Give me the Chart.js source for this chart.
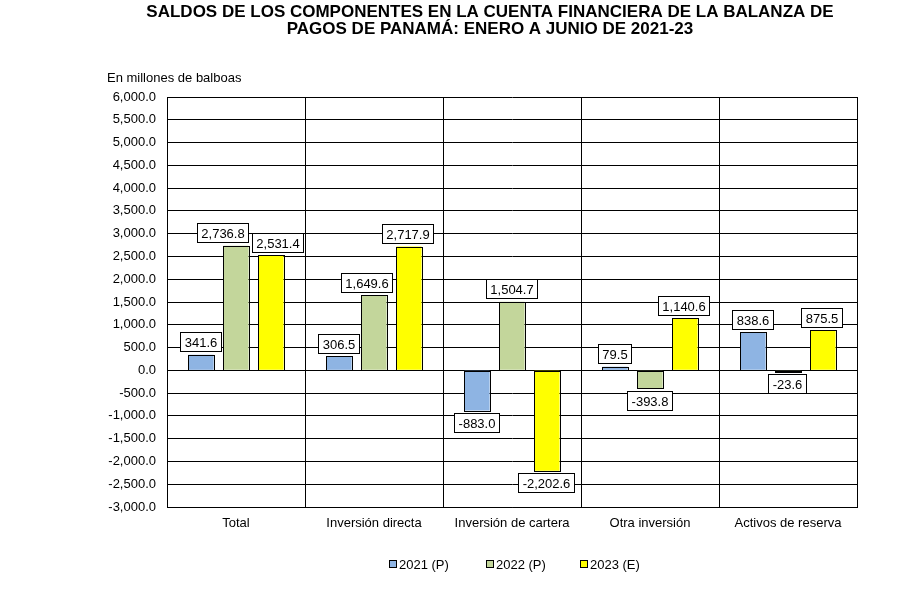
<!DOCTYPE html>
<html>
<head>
<meta charset="utf-8">
<script src="https://cdn.jsdelivr.net/npm/chart.js@4"></script>
<style>
  html, body { margin: 0; padding: 0; background: #fff; }
  #wrap { width: 902px; height: 615px; }
</style>
</head>
<body>
<div id="wrap"><canvas id="chart"></canvas></div>
<script>
// Data
const categories = ['Total', 'Inversión directa', 'Inversión de cartera', 'Otra inversión', 'Activos de reserva'];
const seriesNames = ['2021 (P)', '2022 (P)', '2023 (E)'];
const values2021 = [341.6, 306.5, -883.0, 79.5, 838.6];
const values2022 = [2736.8, 1649.6, 1504.7, -393.8, -23.6];
const values2023 = [2531.4, 2717.9, -2202.6, 1140.6, 875.5];
const seriesColors = ['#8EB4E3', '#C3D69B', '#FFFF00'];

const titleLines = [
    'SALDOS DE LOS COMPONENTES EN LA CUENTA FINANCIERA DE LA BALANZA DE',
    'PAGOS DE PANAMÁ: ENERO A JUNIO DE 2021-23'
];
const unitLabel = 'En millones de balboas';

const FONT = 'Arial, "Liberation Sans", sans-serif';

// Excel nudged a few labels sideways to keep them apart
const labelShift = { '1-0': -13, '2-0': 8, '1-1': -7 };

function fmt(v) {
    return v.toLocaleString('en-US', { minimumFractionDigits: 1, maximumFractionDigits: 1 });
}

// Crisp bar outlines, boxed value labels, title, unit label and legend
const decorations = {
    id: 'decorations',
    afterDatasetsDraw(chart) {
        const ctx = chart.ctx;
        ctx.save();
        ctx.strokeStyle = '#000';
        ctx.lineWidth = 1;
        chart.data.datasets.forEach((ds, i) => {
            chart.getDatasetMeta(i).data.forEach(bar => {
                const l = Math.round(bar.x - bar.width / 2);
                const r = Math.round(bar.x + bar.width / 2);
                const t = Math.round(Math.min(bar.y, bar.base));
                const b = Math.round(Math.max(bar.y, bar.base));
                ctx.strokeRect(l + 0.5, t + 0.5, r - l, Math.max(b - t, 1));
            });
        });
        ctx.font = '13px ' + FONT;
        ctx.textAlign = 'center';
        ctx.textBaseline = 'middle';
        chart.data.datasets.forEach((ds, i) => {
            chart.getDatasetMeta(i).data.forEach((bar, j) => {
                const v = ds.data[j];
                const txt = fmt(v);
                const w = Math.round(ctx.measureText(txt).width + 8);
                const h = 19;
                const cx = bar.x - 1 + (labelShift[i + '-' + j] || 0);
                const cy = v >= 0 ? bar.y - 13 : bar.y + 12;
                const l = Math.round(cx - w / 2), t = Math.round(cy - h / 2);
                ctx.fillStyle = '#fff';
                ctx.fillRect(l, t, w, h);
                ctx.strokeRect(l + 0.5, t + 0.5, w, h);
                ctx.fillStyle = '#000';
                ctx.fillText(txt, l + w / 2 + 0.5, t + h / 2 + 1.5);
            });
        });
        ctx.restore();
    },
    afterDraw(chart) {
        const ctx = chart.ctx;
        ctx.save();
        ctx.fillStyle = '#000';
        ctx.textBaseline = 'middle';
        ctx.textAlign = 'center';
        ctx.font = 'bold 17px ' + FONT;
        titleLines.forEach((line, k) => ctx.fillText(line, 490, 12 + k * 17));
        ctx.textAlign = 'left';
        ctx.font = '13px ' + FONT;
        ctx.fillText(unitLabel, 107, 78);
        // legend
        const legendX = [389, 486, 580];
        seriesNames.forEach((name, k) => {
            const x = legendX[k];
            ctx.fillStyle = seriesColors[k];
            ctx.fillRect(x, 560, 8, 8);
            ctx.strokeStyle = '#000';
            ctx.lineWidth = 1;
            ctx.strokeRect(x + 0.5, 560.5, 7, 7);
            ctx.fillStyle = '#000';
            ctx.fillText(name, x + 10, 565);
        });
        ctx.restore();
    }
};

const allSeries = [values2021, values2022, values2023];

new Chart(document.getElementById('chart'), {
    type: 'bar',
    data: {
        labels: categories,
        datasets: allSeries.map((vals, k) => ({
            label: seriesNames[k],
            data: vals,
            backgroundColor: seriesColors[k],
            borderWidth: 0,
            categoryPercentage: 0.76,
            barPercentage: 0.72
        }))
    },
    options: {
        responsive: true,
        maintainAspectRatio: false,
        animation: false,
        devicePixelRatio: 1,
        layout: { padding: { top: 97, right: 45, bottom: 0, left: 0 } },
        scales: {
            x: {
                grid: { color: '#000', drawTicks: false, offset: true },
                border: { color: '#000' },
                ticks: { color: '#000', font: { family: FONT, size: 13 }, padding: 9, maxRotation: 0 },
                afterFit(scale) { scale.height = 615 - 507; }
            },
            y: {
                min: -3000,
                max: 6000,
                grid: { color: '#000', drawTicks: false },
                border: { color: '#000' },
                ticks: {
                    stepSize: 500,
                    color: '#000',
                    font: { family: FONT, size: 13 },
                    padding: 11,
                    callback: v => fmt(v)
                },
                afterFit(scale) { scale.width = 167; }
            }
        },
        plugins: {
            legend: { display: false },
            tooltip: { enabled: false }
        }
    },
    plugins: [decorations]
});
</script>
</body>
</html>
